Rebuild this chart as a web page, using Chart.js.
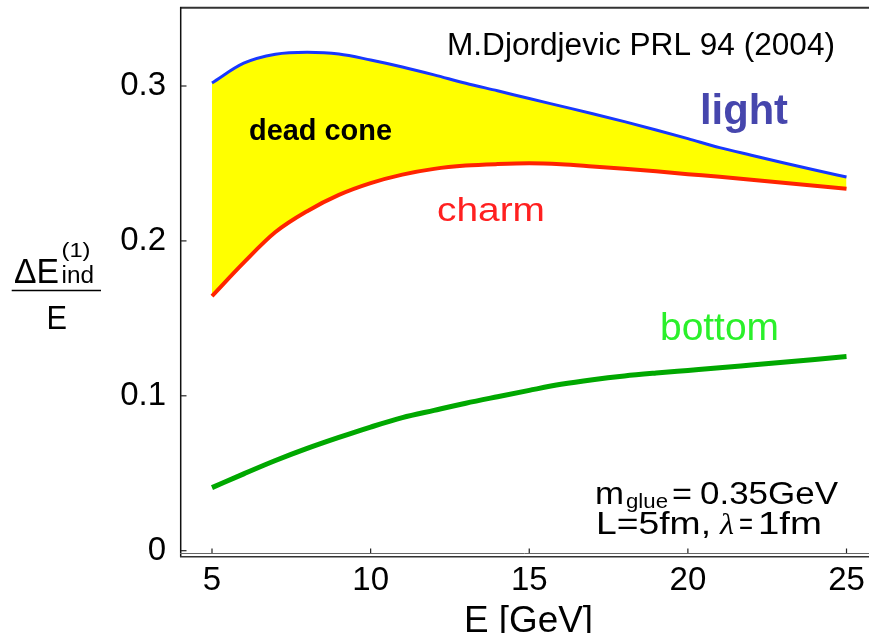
<!DOCTYPE html>
<html>
<head>
<meta charset="utf-8">
<script src="https://cdn.jsdelivr.net/npm/chart.js@4.4.0/dist/chart.umd.min.js"></script>
<style>
  html, body { margin: 0; padding: 0; background: #fff; }
  #wrap { width: 869px; height: 633px; position: relative; }
</style>
</head>
<body>
<div id="wrap"><canvas id="chart"></canvas></div>
<script>
/* ── data ── */
const energy = [5, 6, 7, 8, 9, 10, 11, 12, 13, 14, 15, 16, 17, 18, 19, 20, 21, 22, 23, 24, 25];

const lightLoss = [0.3020, 0.3147, 0.3205, 0.3218, 0.3207, 0.3168, 0.3123, 0.3072, 0.3018, 0.2969, 0.2919,
                   0.2870, 0.2821, 0.2770, 0.2716, 0.2660, 0.2602, 0.2553, 0.2505, 0.2458, 0.2412];
const charmLoss = [0.1644, 0.1860, 0.2057, 0.2192, 0.2297, 0.2373, 0.2428, 0.2465, 0.2486, 0.2496, 0.2501,
                   0.2495, 0.2481, 0.2466, 0.2449, 0.2431, 0.2414, 0.2395, 0.2375, 0.2356, 0.2336];
const bottomLoss = [0.0407, 0.0496, 0.0582, 0.0660, 0.0731, 0.0798, 0.0859, 0.0906, 0.0952, 0.0994, 0.1035,
                    0.1074, 0.1104, 0.1128, 0.1147, 0.1164, 0.1181, 0.1199, 0.1217, 0.1235, 0.1253];

const xTicks = [5, 10, 15, 20, 25];
const yTicks = [0, 0.1, 0.2, 0.3];
const yTickLabels = ["0", "0.1", "0.2", "0.3"];

const toPoints = (ys) => energy.map((e, i) => ({ x: e, y: ys[i] }));

/* draw text stretched to a given width */
function drawText(ctx, txt, x, base, font, color, width) {
  ctx.save();
  ctx.font = font;
  ctx.fillStyle = color;
  ctx.textAlign = 'left';
  ctx.textBaseline = 'alphabetic';
  const w = ctx.measureText(txt).width;
  const sx = width ? width / w : 1;
  ctx.translate(x, base);
  ctx.scale(sx, 1);
  ctx.fillText(txt, 0, 0);
  ctx.restore();
}

// no extra room for edge labels, keeps the plot area where we put it
function noPad(s) {
  s.paddingTop = 0; s.paddingBottom = 0; s.paddingLeft = 0; s.paddingRight = 0;
}

/* ── frame, inward ticks and the annotations ── */
const decor = {
  id: 'decor',
  afterDatasetsDraw(chart) {
    const ctx = chart.ctx;
    const a = chart.chartArea;
    const xs = chart.scales.x, ys = chart.scales.y;
    ctx.save();
    // top border
    ctx.strokeStyle = '#333';
    ctx.lineWidth = 2;
    ctx.beginPath(); ctx.moveTo(a.left - 1, 7.8); ctx.lineTo(869, 7.8); ctx.stroke();
    // left axis
    ctx.strokeStyle = '#111';
    ctx.lineWidth = 1.5;
    ctx.beginPath(); ctx.moveTo(180.7, 7); ctx.lineTo(180.7, 557); ctx.stroke();
    // bottom double line
    ctx.strokeStyle = '#666';
    ctx.lineWidth = 1;
    ctx.beginPath(); ctx.moveTo(180, 553.5); ctx.lineTo(869, 553.5); ctx.stroke();
    ctx.strokeStyle = '#333';
    ctx.lineWidth = 1.5;
    ctx.beginPath(); ctx.moveTo(180, 556.8); ctx.lineTo(869, 556.8); ctx.stroke();
    // ticks
    ctx.strokeStyle = '#222';
    ctx.lineWidth = 1.2;
    yTicks.forEach(v => {
      const p = ys.getPixelForValue(v);
      ctx.beginPath(); ctx.moveTo(181, p); ctx.lineTo(186.5, p); ctx.stroke();
    });
    xTicks.forEach(v => {
      const p = xs.getPixelForValue(v);
      ctx.beginPath(); ctx.moveTo(p, 553); ctx.lineTo(p, 548.5); ctx.stroke();
    });
    ctx.restore();

    const sans = 'Liberation Sans, Arial, sans-serif';
    drawText(ctx, 'M.Djordjevic PRL 94 (2004)', 447, 54.5, '31px ' + sans, '#000', 388);
    drawText(ctx, 'light', 700, 123.5, 'bold 42px ' + sans, '#4646ad', 88);
    drawText(ctx, 'dead cone', 249, 139.5, 'bold 30px ' + sans, '#000', 143);
    drawText(ctx, 'charm', 437, 220.5, '34px ' + sans, '#ff2020', 108);
    drawText(ctx, 'bottom', 660, 340, '39px ' + sans, '#2af02a', 119);

    // parameters box
    drawText(ctx, 'm', 595, 503.5, '31px ' + sans, '#000', 29);
    drawText(ctx, 'glue', 626, 507.5, '21px ' + sans, '#000', 42);
    drawText(ctx, '=', 672, 503.5, '31px ' + sans, '#000', 20);
    drawText(ctx, '0.35GeV', 700, 503.5, '31px ' + sans, '#000', 138);
    drawText(ctx, 'L=5fm,', 596, 534, '31px ' + sans, '#000', 115);
    drawText(ctx, 'λ', 720, 534, 'italic 29px Liberation Serif, serif', '#000', 14);
    drawText(ctx, '=', 739, 534, '31px ' + sans, '#000', 14);
    drawText(ctx, '1fm', 758, 534, '31px ' + sans, '#000', 64);

    // y title as a fraction
    drawText(ctx, 'ΔE', 14, 283.3, '35px ' + sans, '#000', 45);
    drawText(ctx, '(1)', 61.5, 256.5, '20px ' + sans, '#000', 29);
    drawText(ctx, 'ind', 61.5, 283.3, '23px ' + sans, '#000', 32.5);
    ctx.save();
    ctx.strokeStyle = '#000';
    ctx.lineWidth = 1.5;
    ctx.beginPath(); ctx.moveTo(11.7, 290.5); ctx.lineTo(101, 290.5); ctx.stroke();
    ctx.restore();
    drawText(ctx, 'E', 46.5, 329.3, '34px ' + sans, '#000', 20.5);

    // x title (cut at the bottom edge like the original)
    drawText(ctx, 'E [GeV]', 464, 632, '37px ' + sans, '#000', 129);
  }
};

new Chart(document.getElementById('chart'), {
  type: 'line',
  data: {
    datasets: [
      {
        label: 'light',
        data: toPoints(lightLoss),
        borderColor: '#1838ff',
        borderWidth: 3,
        backgroundColor: '#ffff00',
        fill: { target: 1 },
        pointRadius: 0,
        cubicInterpolationMode: 'monotone'
      },
      {
        label: 'charm',
        data: toPoints(charmLoss),
        borderColor: '#ff2400',
        borderWidth: 4,
        fill: false,
        pointRadius: 0,
        cubicInterpolationMode: 'monotone'
      },
      {
        label: 'bottom',
        data: toPoints(bottomLoss),
        borderColor: '#00a800',
        borderWidth: 5,
        fill: false,
        pointRadius: 0,
        cubicInterpolationMode: 'monotone'
      }
    ]
  },
  options: {
    responsive: true,
    maintainAspectRatio: false,
    animation: false,
    events: [],
    layout: { padding: { top: 7.5, right: 0, left: 0, bottom: 0 } },
    plugins: {
      legend: { display: false },
      tooltip: { enabled: false },
      filler: { drawTime: 'beforeDatasetsDraw' }
    },
    scales: {
      x: {
        type: 'linear',
        min: 4.0228,
        max: 25.709,
        afterBuildTicks: (s) => { s.ticks = xTicks.map(v => ({ value: v })); },
        afterFit: (s) => { s.height = 78; noPad(s); },
        grid: { display: false, drawTicks: false },
        border: { display: false },
        ticks: {
          padding: 6,
          color: '#000',
          font: { family: 'Liberation Sans', size: 33 },
          maxRotation: 0,
          callback: (v) => String(v)
        }
      },
      y: {
        type: 'linear',
        min: -0.00278,
        max: 0.35068,
        afterBuildTicks: (s) => { s.ticks = yTicks.map(v => ({ value: v })); },
        afterFit: (s) => { s.width = 181; noPad(s); },
        grid: { display: false, drawTicks: false },
        border: { display: false },
        ticks: {
          padding: 15,
          color: '#000',
          font: { family: 'Liberation Sans', size: 33 },
          callback: (v) => yTickLabels[yTicks.indexOf(v)]
        }
      }
    }
  },
  plugins: [decor]
});
</script>
</body>
</html>
